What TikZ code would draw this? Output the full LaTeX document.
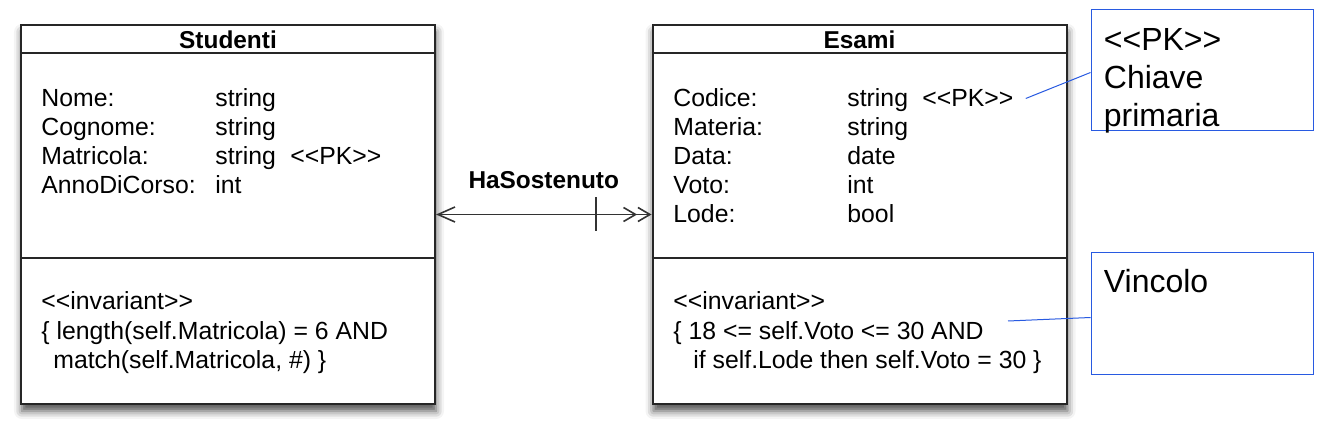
\documentclass[tikz,border=0pt]{standalone}
\usepackage{fontspec}
\setmainfont{Liberation Sans}
\usetikzlibrary{arrows.meta, calc, positioning, shadows.blur}

\definecolor{noteblue}{RGB}{40,90,225}
\newcommand{\stereo}[1]{<{}<#1>{}>}
\newcommand{\attr}[2]{\makebox[87pt][l]{#1}#2}

\begin{document}
\begin{tikzpicture}[x=0.5pt, y=-0.5pt,
  classbox/.style={draw=black!85, line width=1pt, fill=white, inner sep=0pt,
    minimum width=207pt, minimum height=189.5pt,
    blur shadow={shadow xshift=0.5pt, shadow yshift=-3.5pt, shadow blur radius=4pt, shadow opacity=70}},
  classtitle/.style={font=\bfseries\fontsize{12.2}{14.5}\selectfont, inner sep=0pt},
  classtext/.style={font=\fontsize{12.4}{14.5}\selectfont, align=left, inner sep=0pt, anchor=base west},
  sepline/.style={draw=black!85, line width=0.8pt},
  assoc/.style={draw=black!80, line width=0.8pt,
    {Straight Barb[length=8.5pt, width=7.5pt]}-{Straight Barb[length=6pt, width=7pt] Straight Barb[length=6pt, width=7pt]}},
  notebox/.style={draw=noteblue, line width=0.5pt, inner sep=0pt, minimum width=111pt, minimum height=60.5pt},
  notetext/.style={font=\fontsize{16}{19}\selectfont, align=left, inner sep=0pt, anchor=base west},
  noteline/.style={draw=noteblue, line width=0.5pt}]

  \useasboundingbox (0,0) rectangle (1326,432);

  \node[classbox] (stud) at (228,214.5) {};
  \node[classbox] (esami) at (859.5,214.5) {};

  \draw[sepline] ($(stud.north west)+(0,29)$) -- ($(stud.north east)+(0,29)$);
  \draw[sepline] ($(stud.north west)+(0,234)$) -- ($(stud.north east)+(0,234)$);
  \draw[sepline] ($(esami.north west)+(0,29)$) -- ($(esami.north east)+(0,29)$);
  \draw[sepline] ($(esami.north west)+(0,234)$) -- ($(esami.north east)+(0,234)$);

  \node[classtitle] (studtitle) at (228,40) {Studenti};
  \node[classtext] (studattr) at (41,194)
    {\attr{Nome:}{string}\\\attr{Cognome:}{string}\\\attr{Matricola:}{string}\\\attr{AnnoDiCorso:}{int}};
  \node[classtext] (studpk) at (290,165) {\stereo{PK}};
  \node[classtext] (studinv) at (41,368)
    {\stereo{invariant}\\\{ length(self.Matricola) = 6 AND\\\hspace*{6pt}match(self.Matricola, \#) \}};

  \node[classtitle] (esamititle) at (859.5,40) {Esami};
  \node[classtext] (esamiattr) at (673,223)
    {\attr{Codice:}{string}\\\attr{Materia:}{string}\\\attr{Data:}{date}\\\attr{Voto:}{int}\\\attr{Lode:}{bool}};
  \node[classtext] (esamipk) at (922,107) {\stereo{PK}};
  \node[classtext] (esamiinv) at (673,368)
    {\stereo{invariant}\\\{ 18 <= self.Voto <= 30 AND\\\hspace*{10pt}if self.Lode then self.Voto = 30 \}};

  \draw[assoc] (stud.east) -- node[midway, above=12.5pt, classtitle] (assoclabel) {HaSostenuto}
    coordinate[pos=0.743] (tick) (esami.west);
  \draw[draw=black!80, line width=0.8pt] ([yshift=8.5pt]tick) -- ([yshift=-8.5pt]tick);

  \node[notebox] (pknote) at (1202,70.5) {};
  \node[notetext] (pktext) at ([xshift=6.5pt, yshift=-58.5pt]pknote.north west) {\stereo{PK}\\Chiave\\primaria};
  \node[notebox] (vnote) at (1202,313.5) {};
  \node[notetext] (vtext) at ([xshift=6.5pt, yshift=-20pt]vnote.north west) {Vincolo};

  \coordinate (vincolopt) at (1008,321);
  \draw[noteline] ([xshift=6pt]esamipk.east) -- ([yshift=-1pt]pknote.west);
  \draw[noteline] (vincolopt) -- ([yshift=-2pt]vnote.west);
\end{tikzpicture}
\end{document}
